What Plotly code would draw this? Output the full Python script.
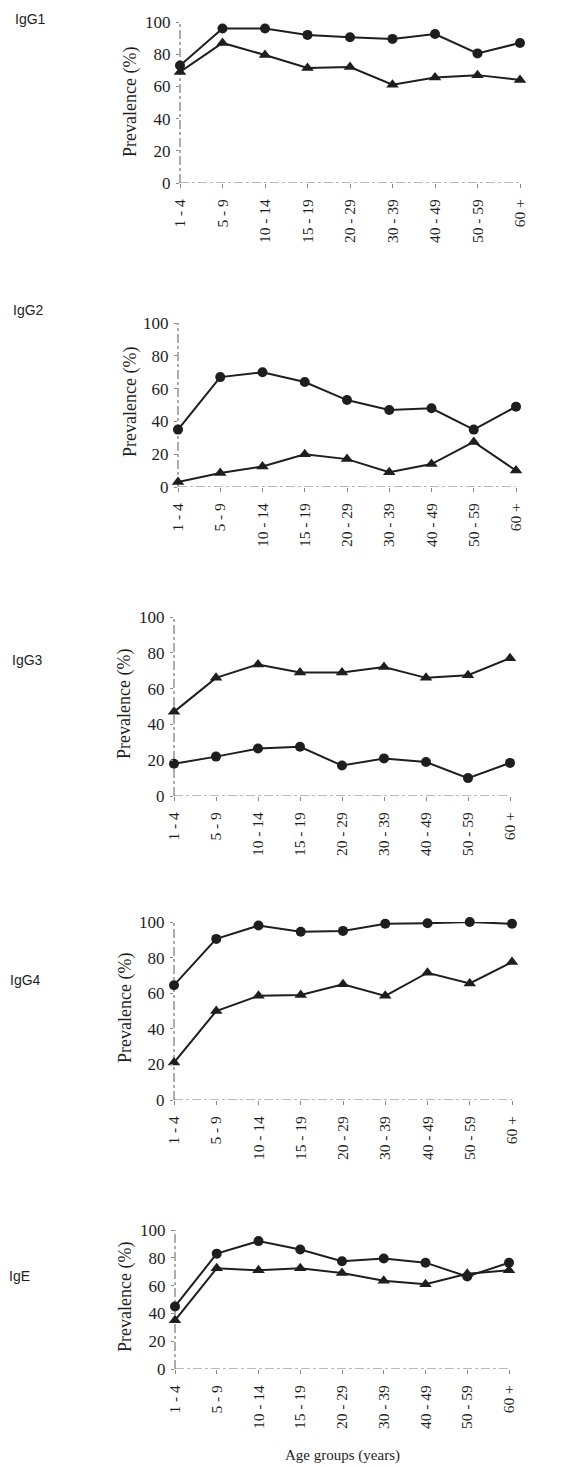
import plotly.graph_objects as go

W, H = 562, 1467

age_groups = ["1 - 4", "5 - 9", "10 - 14", "15 - 19", "20 - 29", "30 - 39", "40 - 49", "50 - 59", "60 +"]
y_ticks = [0, 20, 40, 60, 80, 100]

panel_names = ["IgG1", "IgG2", "IgG3", "IgG4", "IgE"]

igg1_circle = [73, 96, 96, 92, 90.5, 89.5, 92.5, 80.5, 87]
igg1_triangle = [69, 87, 79.5, 71.5, 72, 61, 65.5, 67, 64]

igg2_circle = [35, 67, 70, 64, 53, 47, 48, 35, 49]
igg2_triangle = [3, 8.5, 12.5, 20, 17, 9, 14, 27.5, 10]

igg3_circle = [18, 22, 26.5, 27.5, 17, 21, 19, 10, 18.5]
igg3_triangle = [47, 66, 73.5, 69, 69, 72, 66, 67.5, 77]

igg4_circle = [64.5, 90.5, 98, 94.5, 95, 99, 99.3, 100, 99]
igg4_triangle = [21, 50, 58.5, 59, 65, 58.5, 71.5, 65.5, 77.5]

ige_circle = [45, 83, 92, 86, 77.5, 79.5, 76.5, 66.5, 76.5]
ige_triangle = [35, 72.5, 71, 72.5, 69, 63.5, 61, 68.5, 71]

circles = [igg1_circle, igg2_circle, igg3_circle, igg4_circle, ige_circle]
triangles = [igg1_triangle, igg2_triangle, igg3_triangle, igg4_triangle, ige_triangle]

# panel geometry in page pixels: (x_left, x_right, y_top(100), y_bottom(0))
geom = [
    (180, 520, 22, 183),
    (178, 516, 323, 487),
    (174, 510, 617, 796),
    (174, 512, 922, 1100),
    (175, 509, 1230, 1369),
]
name_pos = [(30, 19), (28, 310), (27, 660), (26, 980), (19, 1276)]
ytitle_pos = [(130, 102), (130, 402), (125, 704), (125, 1008), (125, 1297)]

INK = "#1e1e1e"
SERIF = "Liberation Serif, Times New Roman, serif"
SANS = "Liberation Sans, Arial, sans-serif"

fig = go.Figure()
layout = dict(
    width=W, height=H,
    margin=dict(l=0, r=0, t=0, b=0, autoexpand=False),
    paper_bgcolor="white", plot_bgcolor="white",
    showlegend=False,
)
annotations = []
shapes = []

for i in range(5):
    k = "" if i == 0 else str(i + 1)
    xa, ya = "x" + k, "y" + k
    x0, x1, yt, yb = geom[i]
    for vals, sym, sz in ((circles[i], "circle", 10), (triangles[i], "triangle-up", 11)):
        fig.add_trace(go.Scatter(
            x=list(range(len(age_groups))), y=vals,
            mode="lines+markers",
            line=dict(color=INK, width=2),
            marker=dict(symbol=sym, size=sz, color=INK, line=dict(width=0)),
            cliponaxis=False, xaxis=xa, yaxis=ya,
            name=panel_names[i] + (" ●" if sym == "circle" else " ▲"),
        ))
    layout["xaxis" + k] = dict(
        domain=[x0 / W, x1 / W], anchor=ya, automargin=False,
        range=[0, len(age_groups) - 1],
        tickmode="array", tickvals=list(range(len(age_groups))), ticktext=age_groups,
        tickangle=-90, ticks="outside", ticklen=4, tickcolor="#888", tickwidth=1,
        ticklabelstandoff=5,
        showline=False, showgrid=False, zeroline=False,
        tickfont=dict(family=SERIF, size=15.5, color=INK),
        fixedrange=True,
    )
    layout["yaxis" + k] = dict(
        domain=[1 - yb / H, 1 - yt / H], anchor=xa, automargin=False,
        range=[0, 100], tickvals=y_ticks,
        ticks="outside", ticklen=3, tickcolor="#888", tickwidth=1,
        showline=False, showgrid=False, zeroline=False,
        tickfont=dict(family=SERIF, size=17, color=INK),
        ticklabelstandoff=2,
        fixedrange=True,
    )
    # axis lines (scanned dash-dot look)
    shapes.append(dict(type="line", xref=xa + " domain", yref=ya, x0=0, x1=1, y0=0, y1=0,
                       line=dict(color="#777", width=1.2, dash="dashdot"), layer="below"))
    shapes.append(dict(type="line", xref=xa + " domain", yref=ya, x0=0, x1=0, y0=0, y1=100,
                       line=dict(color="#777", width=1.2, dash="dashdot"), layer="below"))
    nx, ny = name_pos[i]
    annotations.append(dict(text=panel_names[i], x=nx / W, y=1 - ny / H, xref="paper", yref="paper",
                            showarrow=False, xanchor="center", yanchor="middle",
                            font=dict(family=SANS, size=14, color=INK)))
    tx, ty = ytitle_pos[i]
    annotations.append(dict(text="Prevalence (%)", x=tx / W, y=1 - ty / H, xref="paper", yref="paper",
                            showarrow=False, textangle=-90, xanchor="center", yanchor="middle",
                            font=dict(family=SERIF, size=18, color=INK)))

annotations.append(dict(text="Age groups (years)", x=342 / W, y=1 - 1455 / H, xref="paper", yref="paper",
                        showarrow=False, xanchor="center", yanchor="middle",
                        font=dict(family=SERIF, size=15, color=INK)))

layout["annotations"] = annotations
layout["shapes"] = shapes
fig.update_layout(**layout)
fig.write_html("out.html")
